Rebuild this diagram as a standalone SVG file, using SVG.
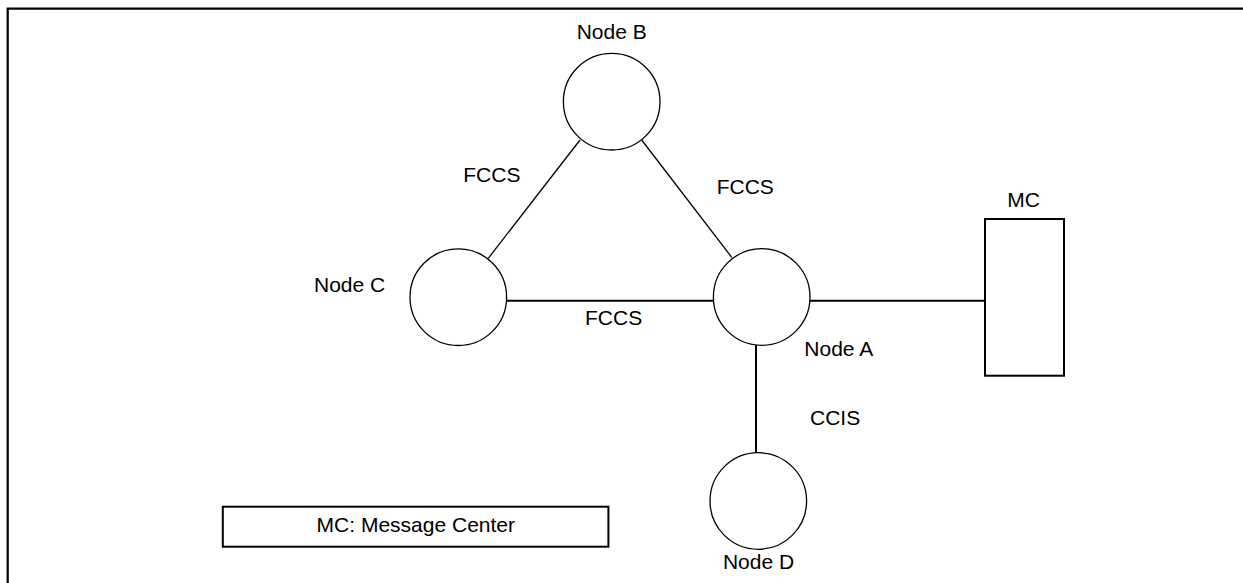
<svg xmlns="http://www.w3.org/2000/svg" width="1243" height="583" viewBox="0 0 1243 583">
<style>
text{font-family:"Liberation Sans",Arial,sans-serif;font-size:21px;fill:#000}
.c{text-anchor:middle}
.node{fill:#fff;stroke:#000;stroke-width:1.3}
.box{fill:#fff;stroke:#000;stroke-width:2}
.thin{stroke:#000;stroke-width:1.3;fill:none}
.thick{stroke:#000;stroke-width:2;fill:none}
</style>
<rect width="1243" height="583" fill="#fff"/>
<path id="frame" d="M7.7,583 V8.7 H1243" fill="none" stroke="#000" stroke-width="2.2"/>
<g id="connectors">
<line class="thin" x1="580" y1="140" x2="488.3" y2="258.3"/>
<line class="thin" x1="641.7" y1="140" x2="731.7" y2="257.3"/>
<line class="thick" x1="506.7" y1="300.7" x2="713.3" y2="300.7"/>
<line class="thick" x1="810" y1="300.7" x2="985" y2="300.7"/>
<line class="thick" x1="756" y1="345" x2="756" y2="452.7"/>
<text x="463.3" y="181.7">FCCS</text>
<text x="716.7" y="194.3">FCCS</text>
<text x="585" y="325">FCCS</text>
<text x="810" y="425">CCIS</text>
</g>
<g id="nodeB">
<circle class="node" cx="611.7" cy="101.7" r="48.3"/>
<text class="c" x="611.7" y="39.3">Node B</text>
</g>
<g id="nodeC">
<circle class="node" cx="458.3" cy="297.2" r="48.3"/>
<text x="314" y="291.7">Node C</text>
</g>
<g id="nodeA">
<circle class="node" cx="761.7" cy="297" r="48.3"/>
<text x="804.3" y="356">Node A</text>
</g>
<g id="nodeD">
<circle class="node" cx="758.3" cy="501" r="48.3"/>
<text class="c" x="758.5" y="569">Node D</text>
</g>
<g id="mc">
<rect class="box" x="985" y="219" width="79" height="156.7"/>
<text class="c" x="1023.5" y="206.7">MC</text>
</g>
<g id="legend">
<rect class="box" x="222.8" y="506.7" width="385.6" height="40"/>
<text class="c" x="415.8" y="531.7">MC: Message Center</text>
</g>
</svg>
